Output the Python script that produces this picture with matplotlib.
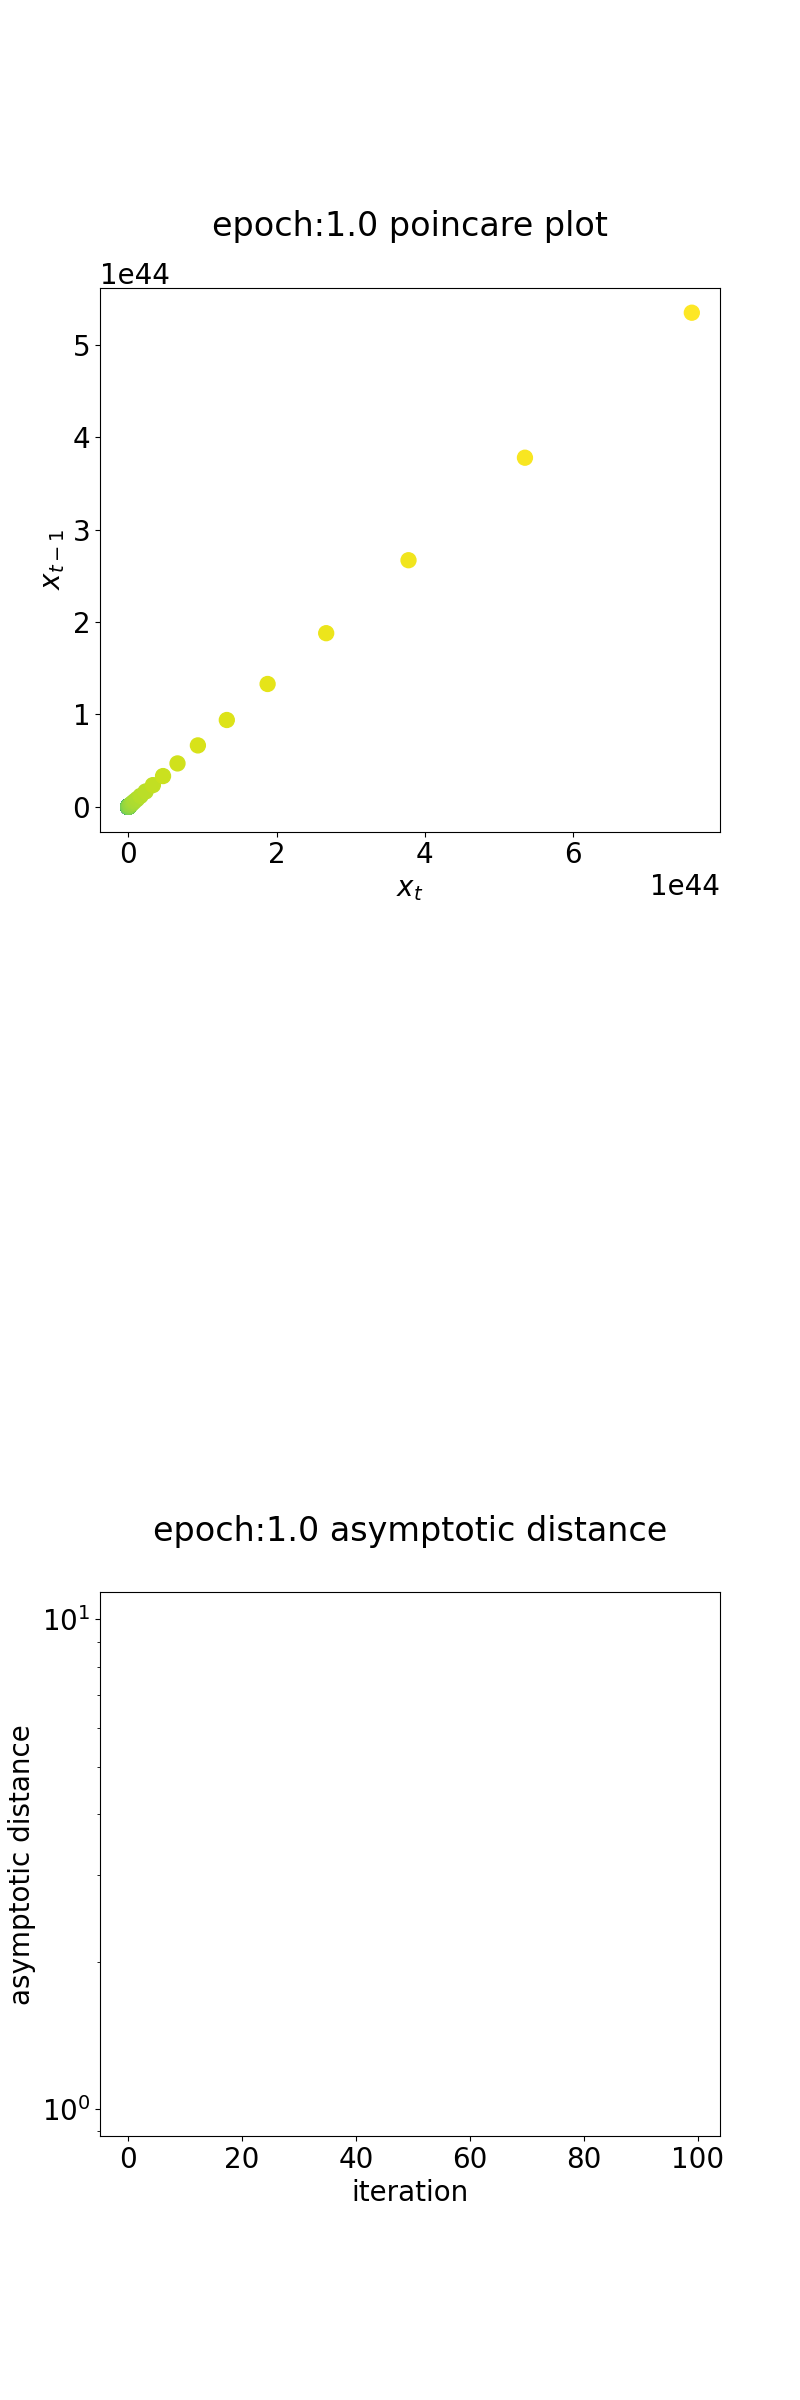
import matplotlib
matplotlib.use("Agg")
import matplotlib.pyplot as plt

# state x_t (units of 1e44), 100 iterations; early ones are ~0 at this scale
x_series = [0.0] * 80 + [
    0.010, 0.015, 0.021, 0.029, 0.042, 0.059, 0.083, 0.118, 0.166, 0.235,
    0.333, 0.47, 0.665, 0.94, 1.33, 1.88, 2.67, 3.78, 5.35, 7.60,
]
x_series = [v * 1e44 for v in x_series]

iteration = list(range(100))
asym_dist = [0.0] * 100  # nothing positive to show on the log axis

epoch = 1.0

plt.rcParams["font.size"] = 20

fig = plt.figure(figsize=(8, 24))

ax1 = fig.add_subplot(3, 1, 1)
xt = x_series[1:]
xprev = x_series[:-1]
ax1.scatter(xt, xprev, c=list(range(len(xt))), cmap="viridis", s=115)
ax1.set_title(f"epoch:{epoch} poincare plot", fontsize=24, y=1.08)
ax1.set_xlabel("$x_t$")
ax1.set_ylabel("$x_{t-1}$")

ax2 = fig.add_subplot(3, 1, 2)
ax2.axis("off")

ax3 = fig.add_subplot(3, 1, 3)
ax3.semilogy(iteration, asym_dist)
ax3.set_ylim(10 ** -0.055, 10 ** 1.055)
ax3.set_title(f"epoch:{epoch} asymptotic distance", fontsize=24, y=1.08)
ax3.set_xlabel("iteration")
ax3.set_ylabel("asymptotic distance")

fig.savefig("out.png", dpi=100)
